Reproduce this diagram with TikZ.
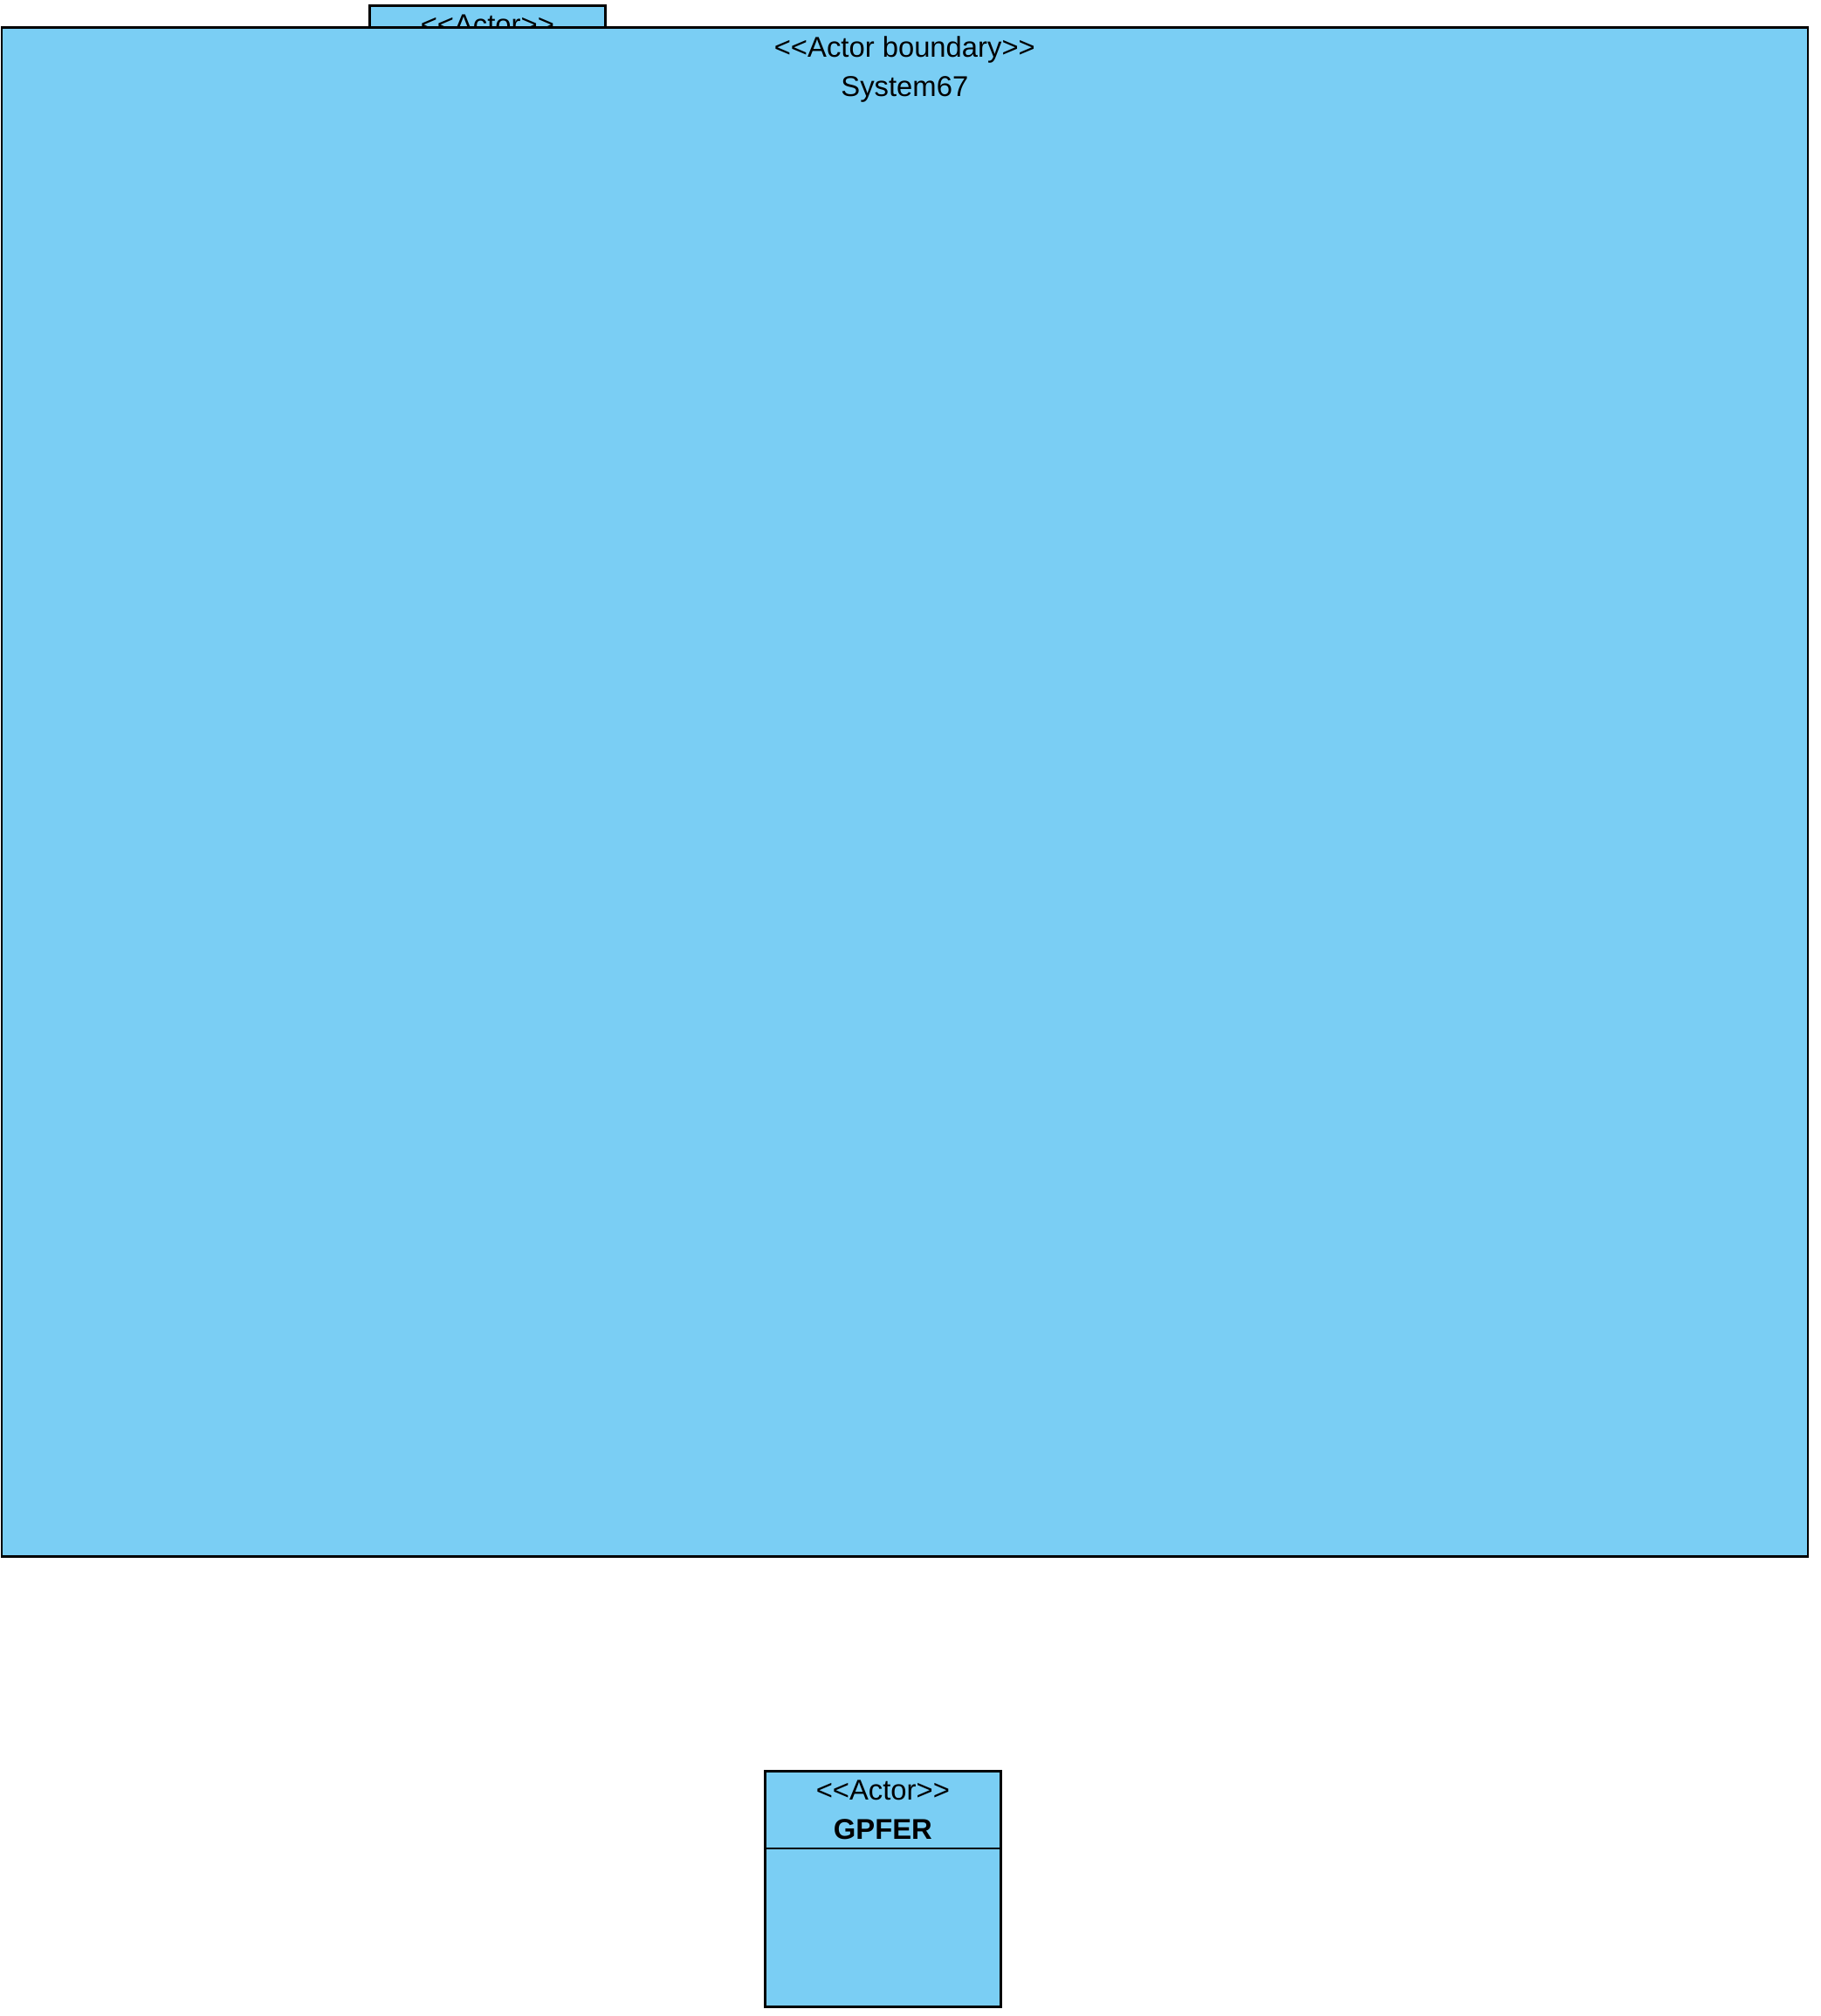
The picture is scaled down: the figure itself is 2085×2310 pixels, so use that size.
\documentclass[tikz,border=0pt]{standalone}
\usepackage{fontspec}
\setmainfont{Liberation Sans}[Ligatures=TeXOff]
\usepackage{xcolor}
\usepackage{tikz}
\usetikzlibrary{positioning}
\definecolor{actorblue}{RGB}{122,206,244}

\begin{document}
\begin{tikzpicture}[x=0.5pt,y=-0.5pt,
    umlbox/.style={draw=black, line width=1.35pt, fill=actorblue, rectangle, inner sep=0pt},
    umltext/.style={font=\fontsize{16.4}{22.5}\selectfont, align=center, inner sep=0pt}]
\useasboundingbox[fill=white] (0,0) rectangle (2085,2310);
% actor lying behind the boundary
\node[umlbox, minimum width=135pt, minimum height=135pt, anchor=north west] (actorA) at (422,5.5) {};
\node[umltext, below=5.5pt of actorA.north] (actorAlabel) {<<Actor>>};
% boundary
\node[umlbox, minimum width=1034.5pt, minimum height=876pt, anchor=north west] (boundary) at (0.5,30) {};
\node[umltext, below=5.5pt of boundary.north] (boundarylabel) {<<Actor boundary>>\\System67};
% actor GPFER
\node[umlbox, minimum width=135pt, minimum height=135pt, anchor=north west] (gpfer) at (875,2028) {};
\node[umltext, below=6pt of gpfer.north] (gpferlabel) {<<Actor>>\\\textbf{GPFER}};
\coordinate (gpferL) at ([yshift=-45pt]gpfer.north west);
\coordinate (gpferR) at ([yshift=-45pt]gpfer.north east);
\draw[line width=1.35pt] (gpferL) -- (gpferR);
\end{tikzpicture}
\end{document}
